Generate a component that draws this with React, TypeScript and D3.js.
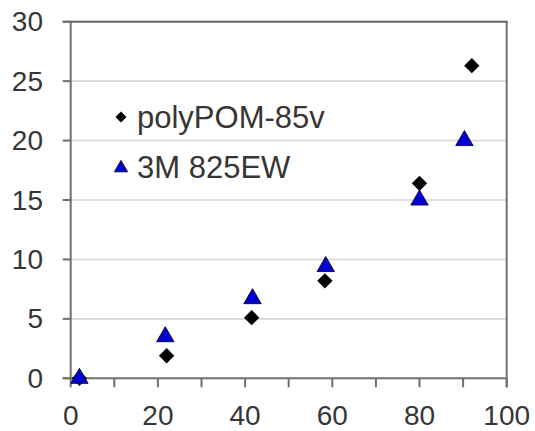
import React from 'react';
import * as d3 from 'd3';

// values
const polyX = [2, 22, 41.5, 58.3, 80, 92];
const polyY = [0, 1.9, 5.1, 8.2, 16.4, 26.3];
const mmmX = [2, 21.7, 41.7, 58.5, 80, 90.3];
const mmmY = [0, 3.5, 6.7, 9.4, 15.0, 20.0];
const xTicks = [0, 20, 40, 60, 80, 100];
const xMinor = [10, 30, 50, 70, 90];
const yTicks = [0, 5, 10, 15, 20, 25, 30];
const seriesNames = ['polyPOM-85v', '3M 825EW'];

const W = 535, H = 431;
const margin = {top: 21.7, right: 28.3, bottom: 52.7, left: 70.7};
const font = '"Liberation Sans", Arial, sans-serif';

const App = () => {
    const x = d3.scaleLinear().domain([0, 100]).range([margin.left, W - margin.right]);
    const y = d3.scaleLinear().domain([0, 30]).range([H - margin.bottom, margin.top]);

    const diamond = d3.symbol().type(d3.symbolDiamond2).size(150)();
    const triangle = d3.symbol().type(d3.symbolTriangle).size(130)();
    const diamondSmall = d3.symbol().type(d3.symbolDiamond2).size(80)();
    const triangleSmall = d3.symbol().type(d3.symbolTriangle).size(75)();

    const axisColor = '#707070';
    const textColor = '#363636';

    return (
        <svg width={W} height={H} style={{position: 'absolute', left: 0, top: 0, background: '#fff'}}>
            {/* grid lines */}
            {yTicks.filter(d => d > 0 && d < 30).map(d => (
                <line key={'g' + d} x1={x(0)} x2={x(100)} y1={y(d)} y2={y(d)}
                      stroke="#d4d4d4" strokeWidth={1.6}/>
            ))}
            {/* frame */}
            <line x1={x(0) - 8} x2={x(100) + 1} y1={y(30)} y2={y(30)} stroke="#606060" strokeWidth={2}/>
            <line x1={x(100)} x2={x(100)} y1={y(30)} y2={y(0) + 9} stroke={axisColor} strokeWidth={2}/>
            <line x1={x(0)} x2={x(0)} y1={y(30)} y2={y(0)} stroke={axisColor} strokeWidth={2}/>
            <line x1={x(0) - 8} x2={x(100)} y1={y(0)} y2={y(0)} stroke={axisColor} strokeWidth={2}/>
            {/* y ticks */}
            {yTicks.map(d => (
                <g key={'y' + d}>
                    <line x1={x(0) - 8} x2={x(0)} y1={y(d)} y2={y(d)} stroke={axisColor} strokeWidth={2}/>
                    <text x={43} y={y(d)} textAnchor="end" dominantBaseline="central"
                          fontFamily={font} fontSize={28} fill={textColor}>{d}</text>
                </g>
            ))}
            {/* x ticks */}
            {xTicks.concat(xMinor).map(d => (
                <line key={'xt' + d} x1={x(d)} x2={x(d)} y1={y(0)} y2={y(0) + 9} stroke={axisColor} strokeWidth={2}/>
            ))}
            {xTicks.map(d => (
                <text key={'xl' + d} x={x(d)} y={425} textAnchor="middle"
                      fontFamily={font} fontSize={28} fill={textColor}>{d}</text>
            ))}
            {/* points */}
            {polyX.map((d, i) => (
                <path key={'p' + i} d={diamond} transform={`translate(${x(d)},${y(polyY[i])})`} fill="#000"/>
            ))}
            {mmmX.map((d, i) => (
                <path key={'m' + i} d={triangle} transform={`translate(${x(d)},${y(mmmY[i])})`}
                      fill="#0000d0" stroke="#101040" strokeWidth={1}/>
            ))}
            {/* legend */}
            <path d={diamondSmall} transform="translate(121,117)" fill="#000"/>
            <text x={137} y={117} dominantBaseline="central" fontFamily={font} fontSize={31}
                  fill={textColor}>{seriesNames[0]}</text>
            <path d={triangleSmall} transform="translate(121,168)" fill="#0000d0" stroke="#101040" strokeWidth={1}/>
            <text x={137} y={167} dominantBaseline="central" fontFamily={font} fontSize={31}
                  fill={textColor}>{seriesNames[1]}</text>
        </svg>
    );
};

export default App;
